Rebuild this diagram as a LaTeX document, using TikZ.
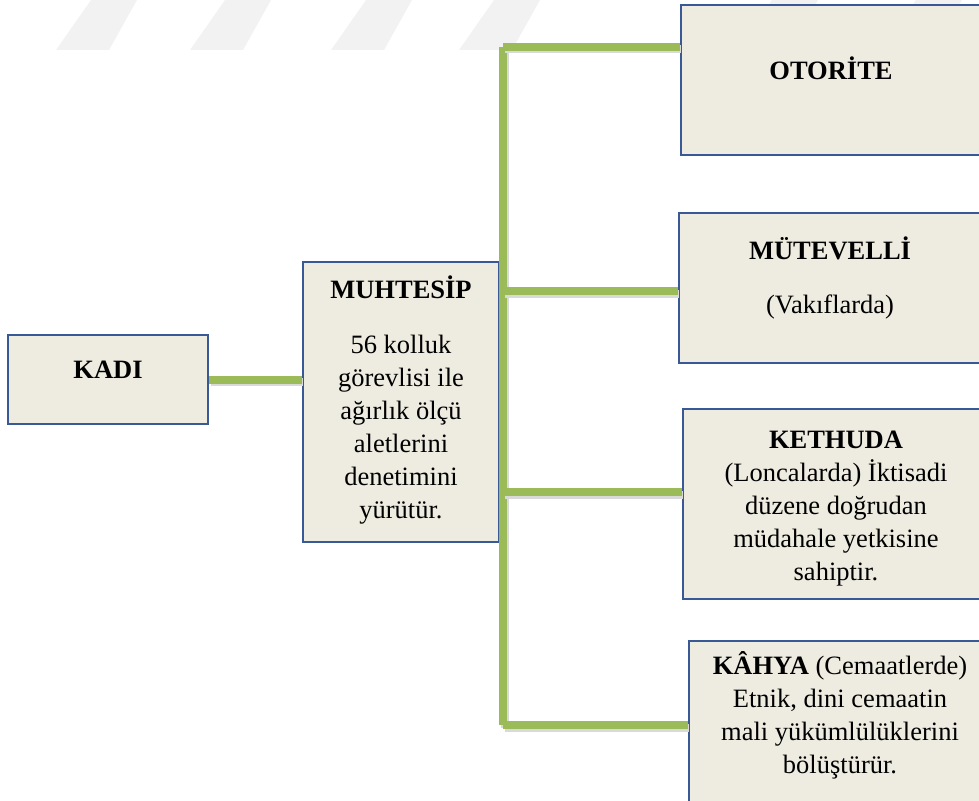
\documentclass[tikz,border=0pt]{standalone}
\usepackage{xcolor}
\usepackage{fontspec}
\usepackage{tikz}
\setmainfont{Liberation Serif}
\definecolor{boxfill}{RGB}{238,236,225}
\definecolor{boxblue}{RGB}{56,88,150}
\definecolor{linkgreen}{RGB}{155,187,89}
\definecolor{wmgray}{RGB}{242,242,242}
\tikzset{
	box/.style={draw=boxblue, line width=2.5pt, fill=boxfill, inner sep=0pt},
	link/.style={line width=8pt, draw=linkgreen, preaction={draw=black!15, line width=8pt, transform canvas={xshift=1.5pt, yshift=-2.5pt}}},
	txt/.style={font=\fontsize{26.5}{33}\selectfont, align=center, anchor=base, inner sep=0pt}
}
\begin{document}
\begin{tikzpicture}[x=1pt, y=-1pt]
				\useasboundingbox (0,0) rectangle (979,800);
				\clip (0,0) rectangle (979,800);
				\foreach \x in {56,190,331,459,737,881}
					\fill[wmgray] (\x,50) -- (\x+53,50) -- (\x+81,0) -- (\x+35,0) -- cycle;
				\node[box, minimum width=200pt, minimum height=89pt] (kadi) at (108, 379.5) {};
				\node[box, minimum width=196pt, minimum height=280pt] (muhtesip) at (401, 402) {};
				\node[box, minimum width=301pt, minimum height=150pt] (otorite) at (831.5, 80) {};
				\node[box, minimum width=302pt, minimum height=150pt] (mutevelli) at (830, 288) {};
				\node[box, minimum width=306pt, minimum height=190pt] (kethuda) at (836, 504) {};
				\node[box, minimum width=302pt, minimum height=180pt] (kahya) at (840, 731) {};
				\node[txt] (t0) at (108, 378) {\textbf{KADI}};
				\node[txt] (t1) at (401, 298) {\textbf{MUHTESİP}};
				\node[txt] (t2) at (401, 518) {56 kolluk\\görevlisi ile\\ağırlık ölçü\\aletlerini\\denetimini\\yürütür.};
				\node[txt] (t3) at (831, 79) {\textbf{OTORİTE}};
				\node[txt] (t4) at (830, 259) {\textbf{MÜTEVELLİ}};
				\node[txt] (t5) at (830, 313) {(Vakıflarda)};
				\node[txt] (t6) at (836, 580) {\textbf{KETHUDA}\\(Loncalarda) İktisadi\\düzene doğrudan\\müdahale yetkisine\\sahiptir.};
				\node[txt] (t7) at (840, 773) {\textbf{KÂHYA} (Cemaatlerde)\\Etnik, dini cemaatin\\mali yükümlülüklerini\\bölüştürür.};
				\coordinate (j1) at (503, 47);
				\coordinate (j2) at (503, 291);
				\coordinate (j3) at (503, 492);
				\coordinate (j4) at (503, 725);
				\draw[link] (kadi.east) to (kadi -| muhtesip.west);
				\draw[link] (j1) to (j4);
				\draw[link] (j1) to (j1 -| otorite.west);
				\draw[link] (j2) to (j2 -| mutevelli.west);
				\draw[link] (j3) to (j3 -| kethuda.west);
				\draw[link] (j4) to (j4 -| kahya.west);
			\end{tikzpicture}
\end{document}
